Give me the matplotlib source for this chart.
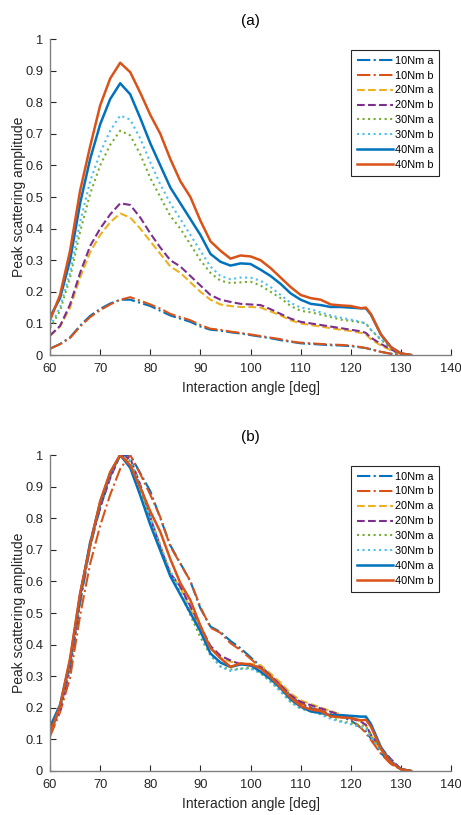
import numpy as np
import matplotlib
matplotlib.use('Agg')
import matplotlib.pyplot as plt

plt.rcParams['font.family'] = ['Liberation Sans', 'DejaVu Sans']

# interaction angle [deg]
angle = [60, 62, 64, 66, 68, 70, 72, 74, 76, 78, 80, 82, 84, 86, 88, 90, 92, 94, 96, 98,
         100, 102, 104, 106, 108, 110, 112, 114, 116, 118, 120, 122, 123, 124, 126, 128, 130, 132]

# peak scattering amplitude per torque / sample
nm10_a = [0.020, 0.035, 0.056, 0.093, 0.124, 0.146, 0.163, 0.175, 0.175, 0.165, 0.155, 0.140, 0.125,
          0.115, 0.105, 0.090, 0.080, 0.077, 0.072, 0.068, 0.063, 0.058, 0.053, 0.047, 0.042, 0.037,
          0.035, 0.033, 0.031, 0.030, 0.028, 0.024, 0.022, 0.018, 0.010, 0.004, 0.001, 0.0]
nm10_b = [0.020, 0.034, 0.054, 0.090, 0.120, 0.142, 0.160, 0.175, 0.183, 0.172, 0.160, 0.147, 0.130,
          0.120, 0.110, 0.095, 0.083, 0.080, 0.074, 0.070, 0.065, 0.060, 0.055, 0.050, 0.043, 0.039,
          0.037, 0.035, 0.033, 0.032, 0.030, 0.025, 0.022, 0.018, 0.010, 0.004, 0.001, 0.0]
nm20_a = [0.060, 0.090, 0.150, 0.245, 0.325, 0.380, 0.420, 0.448, 0.435, 0.400, 0.360, 0.320, 0.280,
          0.260, 0.230, 0.200, 0.175, 0.160, 0.155, 0.152, 0.152, 0.150, 0.138, 0.125, 0.110, 0.100,
          0.095, 0.090, 0.085, 0.080, 0.076, 0.070, 0.065, 0.050, 0.030, 0.015, 0.003, 0.0]
nm20_b = [0.062, 0.092, 0.160, 0.260, 0.345, 0.400, 0.445, 0.480, 0.475, 0.435, 0.385, 0.340, 0.300,
          0.280, 0.250, 0.220, 0.190, 0.175, 0.168, 0.162, 0.160, 0.158, 0.145, 0.130, 0.115, 0.105,
          0.100, 0.095, 0.090, 0.085, 0.080, 0.075, 0.070, 0.055, 0.035, 0.018, 0.003, 0.0]
nm30_a = [0.085, 0.140, 0.245, 0.390, 0.510, 0.600, 0.665, 0.710, 0.695, 0.635, 0.560, 0.500, 0.440,
          0.400, 0.350, 0.300, 0.260, 0.235, 0.228, 0.230, 0.232, 0.220, 0.200, 0.180, 0.155, 0.140,
          0.135, 0.128, 0.120, 0.112, 0.108, 0.103, 0.100, 0.080, 0.048, 0.022, 0.004, 0.0]
nm30_b = [0.090, 0.150, 0.260, 0.420, 0.550, 0.640, 0.710, 0.758, 0.745, 0.685, 0.610, 0.540, 0.480,
          0.430, 0.380, 0.330, 0.280, 0.250, 0.240, 0.245, 0.245, 0.235, 0.215, 0.190, 0.165, 0.150,
          0.145, 0.135, 0.125, 0.118, 0.112, 0.105, 0.100, 0.080, 0.050, 0.025, 0.005, 0.0]
nm40_a = [0.120, 0.180, 0.300, 0.480, 0.620, 0.730, 0.810, 0.860, 0.825, 0.750, 0.670, 0.600, 0.530,
          0.480, 0.430, 0.380, 0.320, 0.295, 0.283, 0.290, 0.288, 0.270, 0.250, 0.225, 0.195, 0.175,
          0.162, 0.158, 0.152, 0.152, 0.150, 0.148, 0.148, 0.128, 0.065, 0.025, 0.005, 0.0]
nm40_b = [0.110, 0.190, 0.330, 0.520, 0.660, 0.790, 0.875, 0.925, 0.895, 0.830, 0.760, 0.700, 0.620,
          0.550, 0.500, 0.425, 0.360, 0.330, 0.305, 0.315, 0.312, 0.300, 0.275, 0.245, 0.215, 0.190,
          0.180, 0.175, 0.160, 0.157, 0.155, 0.148, 0.150, 0.130, 0.065, 0.025, 0.005, 0.0]

labels = ['10Nm a', '10Nm b', '20Nm a', '20Nm b', '30Nm a', '30Nm b', '40Nm a', '40Nm b']
series = [nm10_a, nm10_b, nm20_a, nm20_b, nm30_a, nm30_b, nm40_a, nm40_b]

colors = ['#0072BD', '#D95319', '#EDB120', '#7E2F8E', '#77AC30', '#4DBEEE', '#0072BD', '#D95319']
styles = ['-.', '-.', '--', '--', ':', ':', '-', '-']
widths = [1.5, 1.5, 1.5, 1.5, 1.5, 1.5, 1.8, 1.8]

fig = plt.figure(figsize=(4.61, 8.15), dpi=100)
ax_a = fig.add_axes([0.1085, 0.5644, 0.870, 0.3877])
ax_b = fig.add_axes([0.1085, 0.0540, 0.870, 0.3877])

for ax, title, normalise in [(ax_a, '(a)', False), (ax_b, '(b)', True)]:
    for vals, lab, c, ls, lw in zip(series, labels, colors, styles, widths):
        y = np.array(vals)
        if normalise:
            # panel (b): each curve scaled to its own peak
            y = y / y.max()
        ax.plot(angle, y, ls, color=c, lw=lw, label=lab)

    ax.set_xlim(60, 140)
    ax.set_ylim(0, 1)
    ax.set_xticks(np.arange(60, 141, 10))
    ax.set_yticks(np.arange(0, 1.01, 0.1))
    ax.set_yticklabels(['0', '0.1', '0.2', '0.3', '0.4', '0.5', '0.6', '0.7', '0.8', '0.9', '1'])
    ax.tick_params(direction='in', length=4, width=0.8, color='#262626',
                   labelsize=9.3, labelcolor='#262626')
    ax.tick_params(axis='x', pad=6)
    ax.tick_params(axis='y', pad=5)
    for side in ['top', 'right']:
        ax.spines[side].set_visible(False)
    for side in ['left', 'bottom']:
        ax.spines[side].set_color('#808080')
        ax.spines[side].set_linewidth(1.0)
    ax.set_xlabel('Interaction angle [deg]', fontsize=10, color='#262626', labelpad=4)
    ax.set_ylabel('Peak scattering amplitude', fontsize=10, color='#262626')
    ax.yaxis.set_label_coords(-0.061, 0.5)
    ax.set_title(title, fontsize=11, color='black', pad=10)

    leg = ax.legend(loc='upper right', bbox_to_anchor=(0.97, 0.965), fontsize=7.9,
                    handlelength=3.3, handletextpad=0.2, labelspacing=0.45,
                    borderpad=0.5, fancybox=False, framealpha=1, borderaxespad=0)
    leg.get_frame().set_edgecolor('#262626')
    leg.get_frame().set_linewidth(0.8)

fig.savefig('out.png', dpi=100)
